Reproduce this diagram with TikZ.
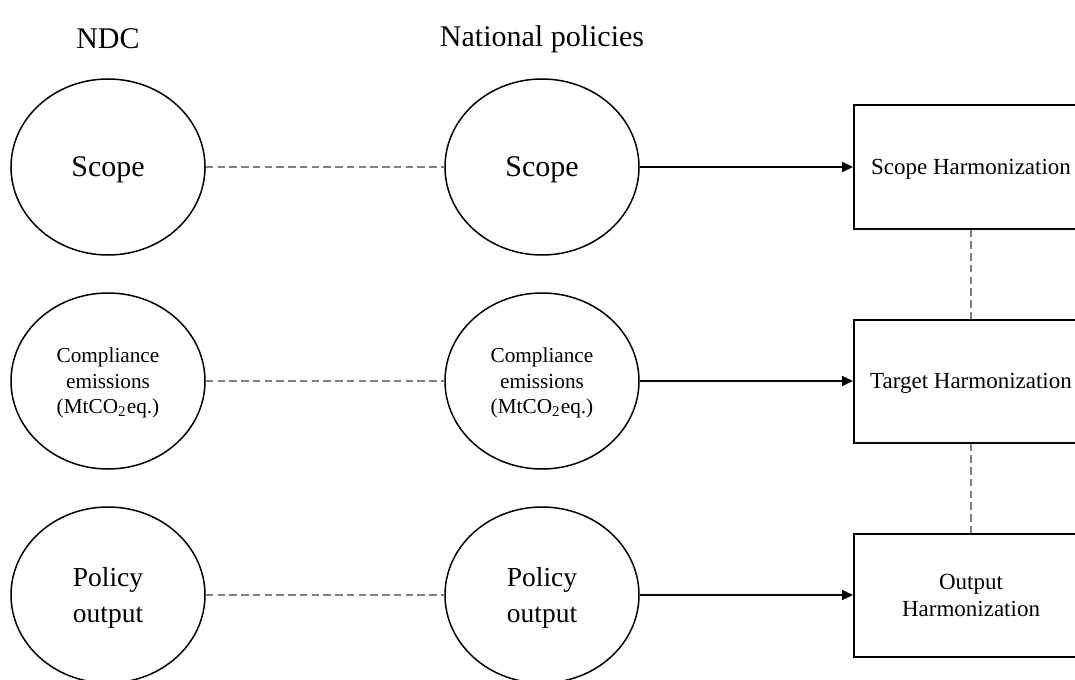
\documentclass[tikz,border=0pt]{standalone}
\usepackage{fontspec}
\setmainfont{Liberation Serif}
\usetikzlibrary{arrows.meta,shapes.geometric}
\definecolor{LinkGray}{HTML}{808080}

\begin{document}
\begin{tikzpicture}[x=0.4pt, y=0.4pt, >={Triangle[length=4.4pt,width=4pt]},
    oval/.style={draw, ellipse, line width=0.6pt, minimum width=77.6pt, minimum height=70.4pt, inner sep=0pt, text depth=0pt, align=center},
    harm/.style={draw, rectangle, line width=0.8pt, minimum width=93.6pt, minimum height=49.2pt, inner sep=0pt, text depth=0pt, align=center, font=\fontsize{9.2}{10.8}\selectfont},
    link/.style={draw=LinkGray, line width=0.8pt, dash pattern=on 3pt off 1.7pt},
    feed/.style={->, line width=0.7pt}]

    \useasboundingbox (0,0) rectangle (1075,-680);

    % Column titles
    \node[font=\fontsize{12}{14}\selectfont] (ndcTitle) at (108,-39) {NDC};
    \node[font=\fontsize{12}{14}\selectfont] (polTitle) at (542,-39) {National policies};

    % NDC column
    \node[oval, font=\fontsize{12}{14}\selectfont] (ndcScope) at (108,-167) {Scope};
    \node[oval, font=\fontsize{8.5}{10.2}\selectfont] (ndcTarget) at (108,-381) {Compliance\\emissions\\(MtCO\textsubscript{2}eq.)};
    \node[oval, font=\fontsize{11}{14.5}\selectfont] (ndcOutput) at (108,-595) {Policy\\output};

    % National policies column
    \node[oval, font=\fontsize{12}{14}\selectfont] (polScope) at (542,-167) {Scope};
    \node[oval, font=\fontsize{8.5}{10.2}\selectfont] (polTarget) at (542,-381) {Compliance\\emissions\\(MtCO\textsubscript{2}eq.)};
    \node[oval, font=\fontsize{11}{14.5}\selectfont] (polOutput) at (542,-595) {Policy\\output};

    % Harmonization boxes
    \node[harm] (harmScope) at (971,-167) {Scope Harmonization};
    \node[harm] (harmTarget) at (971,-381) {Target Harmonization};
    \node[harm] (harmOutput) at (971,-595) {Output\\Harmonization};

    % Correspondence links
    \draw[link] (ndcScope) -- (polScope);
    \draw[link] (ndcTarget) -- (polTarget);
    \draw[link] (ndcOutput) -- (polOutput);
    \draw[link] (harmScope) -- (harmTarget);
    \draw[link] (harmTarget) -- (harmOutput);

    % Arrows into harmonization
    \draw[feed] (polScope) -- (harmScope);
    \draw[feed] (polTarget) -- (harmTarget);
    \draw[feed] (polOutput) -- (harmOutput);

\end{tikzpicture}
\end{document}
